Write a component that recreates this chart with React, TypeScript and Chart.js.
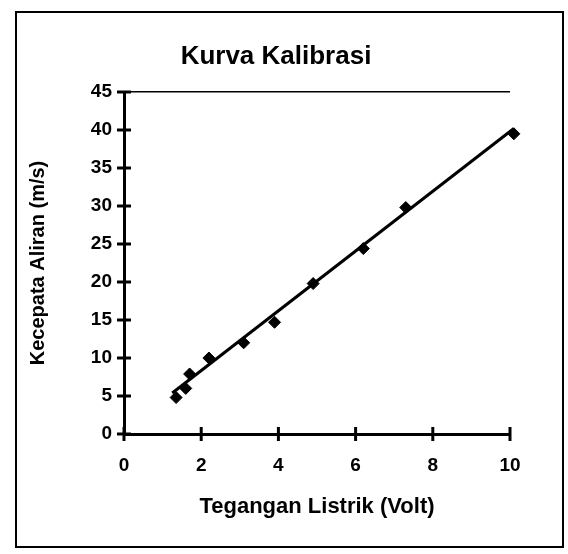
import React, { useEffect, useRef } from "react";
import { Chart, registerables } from "chart.js";

Chart.register(...registerables);

const chartTitle = "Kurva Kalibrasi";
const xAxisTitle = "Tegangan Listrik (Volt)";
const yAxisTitle = "Kecepata Aliran (m/s)";

const voltage = [1.35, 1.6, 1.7, 2.2, 3.1, 3.9, 4.9, 6.2, 7.3, 10.1];
const velocity = [4.8, 6.0, 7.9, 10.0, 12.0, 14.7, 19.8, 24.4, 29.8, 39.5];

const trendX = [1.25, 10.1];
const trendY = [5.4, 40.2];

const xMin = 0;
const xMax = 10;
const xStep = 2;
const yMin = 0;
const yMax = 45;
const yStep = 5;

const FONT = "'Liberation Sans', Arial, sans-serif";

const framePlugin = {
  id: "frame",
  afterDraw(chart: any) {
    const ctx = chart.ctx;
    ctx.save();
    ctx.strokeStyle = "#000";
    ctx.lineWidth = 2;
    ctx.strokeRect(16, 12, 547, 535);
    ctx.fillStyle = "#000";
    ctx.font = `bold 26px ${FONT}`;
    ctx.textAlign = "center";
    ctx.textBaseline = "middle";
    ctx.fillText(chartTitle, 276, 57);
    const xs = chart.scales.x;
    const ys = chart.scales.y;
    const area = chart.chartArea;
    ctx.lineWidth = 3;
    ctx.lineCap = "butt";
    ys.ticks.forEach((t: any) => {
      const py = ys.getPixelForValue(t.value);
      ctx.beginPath();
      ctx.moveTo(area.left - 7, py);
      ctx.lineTo(area.left + 7, py);
      ctx.stroke();
    });
    xs.ticks.forEach((t: any) => {
      const px = xs.getPixelForValue(t.value);
      ctx.beginPath();
      ctx.moveTo(px, area.bottom - 7);
      ctx.lineTo(px, area.bottom + 7);
      ctx.stroke();
    });
    ctx.restore();
  },
};

export default function App() {
  const ref = useRef<HTMLCanvasElement | null>(null);

  useEffect(() => {
    if (!ref.current) return;
    const chart = new Chart(ref.current, {
      type: "scatter",
      data: {
        datasets: [
          {
            label: "Data",
            data: voltage.map((v, i) => ({ x: v, y: velocity[i] })),
            pointStyle: "rectRot",
            pointRadius: 6,
            backgroundColor: "#000",
            borderColor: "#000",
            borderWidth: 1,
            showLine: false,
            clip: false,
          },
          {
            label: "Trend",
            data: trendX.map((v, i) => ({ x: v, y: trendY[i] })),
            showLine: true,
            pointRadius: 0,
            borderColor: "#000",
            borderWidth: 3,
            fill: false,
            clip: false,
          },
        ],
      },
      options: {
        animation: false,
        responsive: false,
        devicePixelRatio: 1,
        layout: { padding: { left: 20, right: 58, top: 92, bottom: 30 } },
        plugins: {
          legend: { display: false },
          title: { display: false },
          tooltip: { enabled: false },
        },
        scales: {
          x: {
            type: "linear",
            min: xMin,
            max: xMax,
            afterFit: (s: any) => {
              s.height = 90;
            },
            ticks: {
              stepSize: xStep,
              color: "#000",
              padding: 20,
              font: { family: FONT, size: 19, weight: "bold" },
            },
            grid: { display: false, drawTicks: false },
            border: { display: true, color: "#000", width: 3 },
            title: {
              display: true,
              text: xAxisTitle,
              color: "#000",
              padding: { top: 0, bottom: 4 },
              font: { family: FONT, size: 22, weight: "bold" },
            },
          },
          y: {
            type: "linear",
            min: yMin,
            max: yMax,
            afterFit: (s: any) => {
              s.width = 104;
            },
            ticks: {
              stepSize: yStep,
              color: "#000",
              padding: 12,
              font: { family: FONT, size: 19, weight: "bold" },
            },
            grid: {
              display: true,
              drawOnChartArea: true,
              drawTicks: false,
              color: (c: any) => (c.tick && c.tick.value === yMax ? "#000" : "rgba(0,0,0,0)"),
              lineWidth: 1.5,
            },
            border: { display: true, color: "#000", width: 3 },
            title: {
              display: true,
              text: yAxisTitle,
              color: "#000",
              padding: { top: 6, bottom: 0 },
              font: { family: FONT, size: 20, weight: "bold" },
            },
          },
        },
      },
      plugins: [framePlugin],
    });
    return () => chart.destroy();
  }, []);

  return (
    <div
      style={{
        position: "fixed",
        left: 0,
        top: 0,
        width: 568,
        height: 554,
        background: "#fff",
      }}
    >
      <canvas ref={ref} width={568} height={554} />
    </div>
  );
}
